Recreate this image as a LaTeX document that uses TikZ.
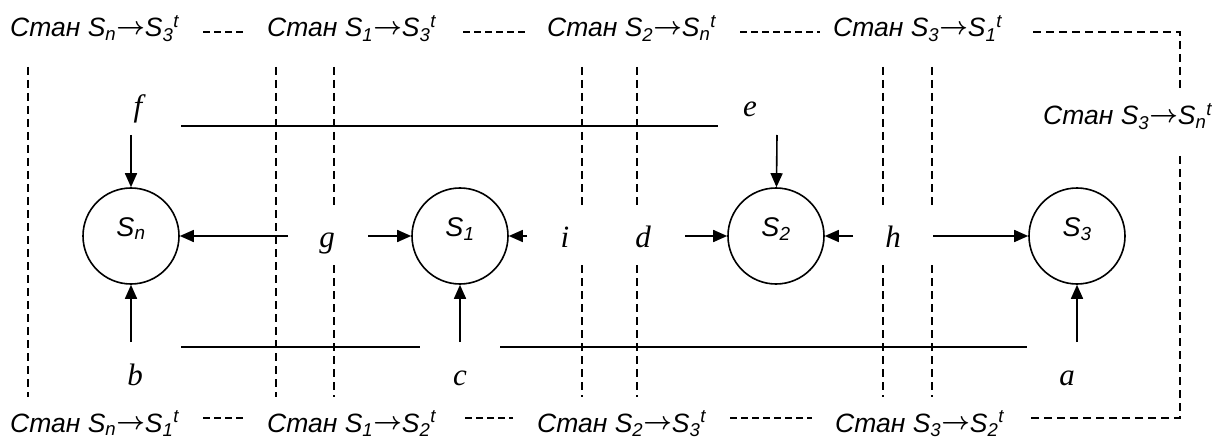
\documentclass[tikz,border=0pt]{standalone}
\usepackage{fontspec}
\setmainfont{Liberation Serif}
\setsansfont{Liberation Sans}
\usetikzlibrary{arrows.meta}
\newcommand{\stan}[3]{Стан S\textsubscript{#1}\raisebox{2.5pt}{\fontsize{23}{23}\selectfont$\boldsymbol{\rightarrow}$}S\textsubscript{#2}\textsuperscript{#3}}
\usepackage{amsmath}
\tikzset{
  lab/.style={font=\sffamily\itshape\fontsize{26.5}{26.5}\selectfont, inner sep=0pt, anchor=base west},
  let/.style={font=\itshape\fontsize{31}{31}\selectfont, inner sep=0pt, anchor=base},
  state/.style={draw, circle, line width=1.6pt, minimum size=96pt, inner sep=0pt,
    font=\sffamily\itshape\fontsize{27}{27}\selectfont, text height=9pt, text depth=9pt},
  arr/.style={line width=1.6pt, -{Triangle[length=14pt,width=12pt]}},
  sol/.style={line width=1.9pt},
  dsh/.style={line width=1.3pt, dash pattern=on 8pt off 5pt}
}
\begin{document}
\begin{tikzpicture}[x=1pt,y=-1pt]
\useasboundingbox (0,0) rectangle (1213,441);
% states
\node[state] (Sn) at (131,236) {S\textsubscript{n}};
\node[state] (S1) at (460,236) {S\textsubscript{1}};
\node[state] (S2) at (776,236) {S\textsubscript{2}};
\node[state] (S3) at (1077,236) {S\textsubscript{3}};
% letters
\node[let] (f) at (138,117) {f};
\node[let] (e) at (750,117) {e};
\node[let] (g) at (327,247) {g};
\node[let] (i) at (565,247) {i};
\node[let] (d) at (643,247) {d};
\node[let] (h) at (893,247) {h};
\node[let] (b) at (135,385) {b};
\node[let] (c) at (460,385) {c};
\node[let] (a) at (1067,385) {a};
% labels
\node[lab] (T1) at (10,37) {\stan{n}{3}{t}};
\node[lab] (T2) at (267,37) {\stan{1}{3}{t}};
\node[lab] (T3) at (547,37) {\stan{2}{n}{t}};
\node[lab] (T4) at (833,37) {\stan{3}{1}{t}};
\node[lab] (R) at (1043,125) {\stan{3}{n}{t}};
\node[lab] (B1) at (10,432) {\stan{n}{1}{t}};
\node[lab] (B2) at (267,432) {\stan{1}{2}{t}};
\node[lab] (B3) at (537,432) {\stan{2}{3}{t}};
\node[lab] (B4) at (835,432) {\stan{3}{2}{t}};
% arrow start coordinates
\coordinate (fs) at (131,135);
\coordinate (es) at (777,135);
\coordinate (bs) at (131,342);
\coordinate (cs) at (460,342);
\coordinate (as) at (1077,342);
\coordinate (gl) at (288,236);
\coordinate (gr) at (368,236);
\coordinate (ir) at (527,236);
\coordinate (dr) at (685,236);
\coordinate (hl) at (853,236);
\coordinate (hr) at (933,236);
% arrows
\draw[arr] (fs) -- (Sn);
\draw[arr] (es) -- (S2);
\draw[arr] (bs) -- (Sn);
\draw[arr] (cs) -- (S1);
\draw[arr] (as) -- (S3);
\draw[arr] (gl) -- (Sn);
\draw[arr] (gr) -- (S1);
\draw[arr] (ir) -- (S1);
\draw[arr] (dr) -- (S2);
\draw[arr] (hl) -- (S2);
\draw[arr] (hr) -- (S3);
% solid horizontal lines
\draw[sol] (181,126) -- (718,126);
\draw[sol] (181,347) -- (420,347);
\draw[sol] (500,347) -- (1027,347);
% dashed verticals
\draw[dsh] (28,67) -- (28,397);
\draw[dsh] (276,67) -- (276,397);
\foreach \xx in {334,582,637,883,932}{
  \draw[dsh] (\xx,67) -- (\xx,205);
  \draw[dsh] (\xx,265) -- (\xx,397);
}
% dashed connectors between labels
\draw[dsh, dash pattern=on 7pt off 4pt] (203,32) -- (245,32);
\draw[dsh, dash pattern=on 7pt off 4pt] (463,32) -- (525,32);
\draw[dsh, dash pattern=on 7pt off 4pt] (740,32) -- (820,32);
\draw[dsh] (1033,32) -- (1180,32) -- (1180,88);
\draw[dsh] (1180,156) -- (1180,418) -- (1030,418);
\draw[dsh, dash pattern=on 7pt off 4pt] (203,418) -- (245,418);
\draw[dsh, dash pattern=on 7pt off 4pt] (465,418) -- (513,418);
\draw[dsh, dash pattern=on 7pt off 4pt] (730,418) -- (812,418);
\end{tikzpicture}
\end{document}
